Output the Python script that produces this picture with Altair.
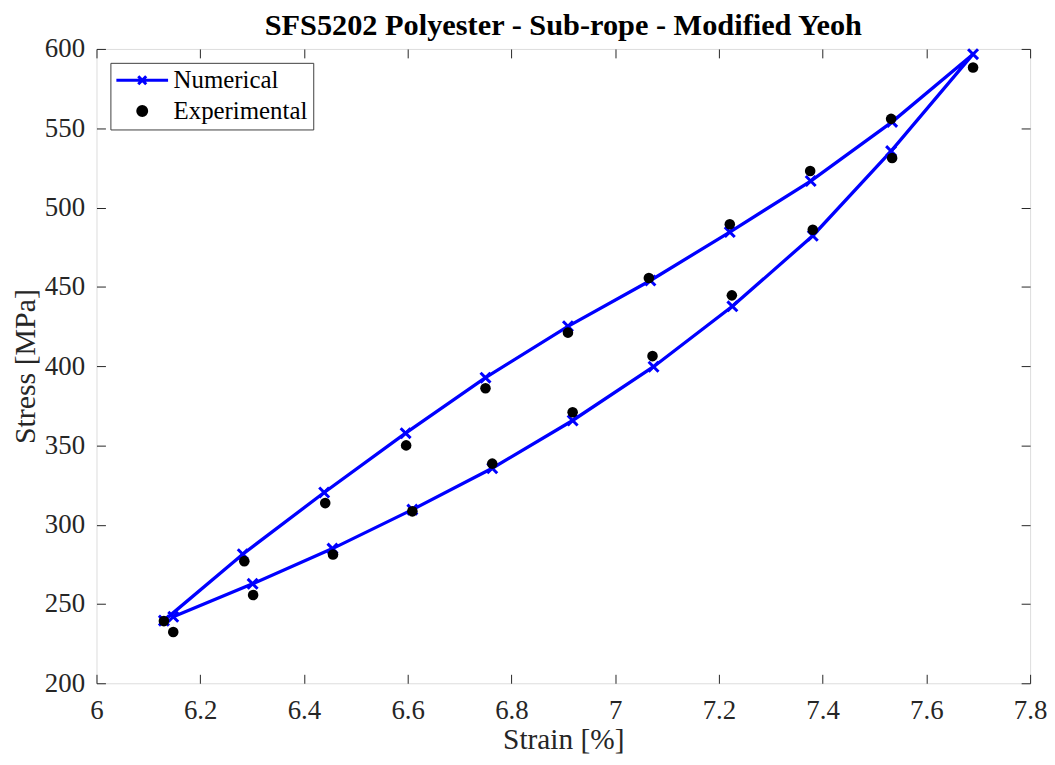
import altair as alt
import pandas as pd

# ---------------- data ----------------
series_names = ["Numerical", "Experimental"]

num_strain = [6.130, 6.282, 6.439, 6.596, 6.750, 6.909, 7.068, 7.221, 7.377, 7.534, 7.690,
              7.532, 7.381, 7.226, 7.074, 6.918, 6.763, 6.609, 6.455, 6.301, 6.148]
num_stress = [239.5, 281.4, 320.3, 357.7, 392.7, 425.1, 454.0, 484.5, 516.7, 554.0, 596.7,
              535.6, 482.2, 437.7, 399.6, 365.7, 335.6, 309.5, 284.9, 262.7, 241.9]

exp_strain = [6.130, 6.285, 6.441, 6.597, 6.750, 6.909, 7.065, 7.221, 7.376, 7.532, 7.690,
              7.534, 7.381, 7.225, 7.072, 6.918, 6.763, 6.609, 6.456, 6.302, 6.148]
exp_stress = [239.2, 277.0, 313.6, 350.0, 386.0, 421.1, 455.6, 489.5, 523.0, 555.9, 588.3,
              531.2, 486.0, 444.6, 406.3, 370.9, 338.5, 308.4, 281.2, 255.6, 232.3]

x_ticks = [6, 6.2, 6.4, 6.6, 6.8, 7, 7.2, 7.4, 7.6, 7.8]
y_ticks = [200, 250, 300, 350, 400, 450, 500, 550, 600]

num_df = pd.DataFrame({"strain": num_strain, "stress": num_stress,
                       "idx": list(range(len(num_strain))), "series": series_names[0]})
exp_df = pd.DataFrame({"strain": exp_strain, "stress": exp_stress,
                       "idx": list(range(len(exp_strain))), "series": series_names[1]})
all_df = pd.concat([num_df, exp_df], ignore_index=True)

FONT = "Liberation Serif"
AX = "#262626"
BLUE = "#0000ff"
TICK = 9
X_PATH = "M-1,-1L1,1M-1,1L1,-1"
LEG_LINE = "M-5.2,0L5.2,0M-0.8,-0.8L0.8,0.8M-0.8,0.8L0.8,-0.8"
LEG_DOT = "M0.9,0A0.9,0.9 0 1,1 -0.9,0A0.9,0.9 0 1,1 0.9,0Z"

x_scale = alt.Scale(domain=[6, 7.8], nice=False, zero=False)
y_scale = alt.Scale(domain=[200, 600], nice=False, zero=False)


def axis(orient, values, labels, title=None, **kw):
    return alt.Axis(orient=orient, values=values, labels=labels, grid=False, domain=False,
                    offset=-TICK, tickSize=TICK, tickColor=AX, tickWidth=1,
                    title=title, **kw)


x_bottom = axis("bottom", x_ticks, True, "Strain [%]", format="~g",
                labelFont=FONT, labelFontSize=27, labelColor=AX, labelPadding=14,
                labelFlush=False, labelOverlap=False,
                titleFont=FONT, titleFontSize=29.5, titleFontWeight="normal",
                titleColor=AX, titlePadding=3)
y_left = axis("left", y_ticks, True, "Stress [MPa]", format="d",
              labelFont=FONT, labelFontSize=27, labelColor=AX, labelPadding=12,
              labelFlush=False, labelOverlap=False,
              titleFont=FONT, titleFontSize=30, titleFontWeight="normal",
              titleColor=AX, titlePadding=4)
x_top = axis("top", x_ticks, False)
y_right = axis("right", y_ticks, False)

legend = alt.Legend(
    orient="none", legendX=14, legendY=14, title=None, direction="vertical",
    fillColor="white", strokeColor="#404040", padding=5,
    labelFont=FONT, labelFontSize=25, labelColor="black",
    symbolSize=100, symbolStrokeWidth=3, symbolOpacity=1,
    symbolOffset=14.5, labelOffset=19, rowPadding=5,
)

line = alt.Chart(num_df).mark_line(color=BLUE, strokeWidth=3.3).encode(
    x=alt.X("strain:Q", scale=x_scale, axis=x_top),
    y=alt.Y("stress:Q", scale=y_scale, axis=y_right),
    order="idx:Q",
)

marks = alt.Chart(num_df).mark_point(shape=X_PATH, filled=False, size=100, color=BLUE,
                                     strokeWidth=3, opacity=1).encode(
    x=alt.X("strain:Q", scale=x_scale, axis=x_bottom),
    y=alt.Y("stress:Q", scale=y_scale, axis=y_left),
)

dots = alt.Chart(exp_df).mark_circle(size=113, opacity=1, color="black").encode(
    x=alt.X("strain:Q", scale=x_scale, axis=None),
    y=alt.Y("stress:Q", scale=y_scale, axis=None),
)

# legend-only layer (invisible marks, the legend carries the look)
legend_layer = alt.Chart(all_df).mark_point(opacity=0, strokeWidth=3).encode(
    x=alt.X("strain:Q", scale=x_scale, axis=None),
    y=alt.Y("stress:Q", scale=y_scale, axis=None),
    shape=alt.Shape("series:N", scale=alt.Scale(domain=series_names, range=[LEG_LINE, LEG_DOT]),
                    legend=legend),
    stroke=alt.Stroke("series:N", scale=alt.Scale(domain=series_names, range=[BLUE, "black"]),
                      legend=legend),
    fill=alt.Fill("series:N", scale=alt.Scale(domain=series_names, range=["transparent", "black"]),
                  legend=legend),
)

chart = alt.layer(line, marks, dots, legend_layer).resolve_axis(
    x="independent", y="independent"
).properties(
    width=939, height=638,
    autosize=alt.AutoSizeParams(type="none"),
    padding={"left": 89, "top": 39, "right": 17, "bottom": 72},
    title=alt.TitleParams("SFS5202 Polyester - Sub-rope - Modified Yeoh",
                          font=FONT, fontSize=30.5, fontWeight="bold", color="black",
                          anchor="middle", frame="group", offset=10, dy=16),
).configure_view(
    stroke=AX, strokeWidth=1
).configure_legend(
    strokeColor="#404040", strokeWidth=1
).configure(background="white")

chart.save("out.html", embed_options={"renderer": "svg", "actions": False})
